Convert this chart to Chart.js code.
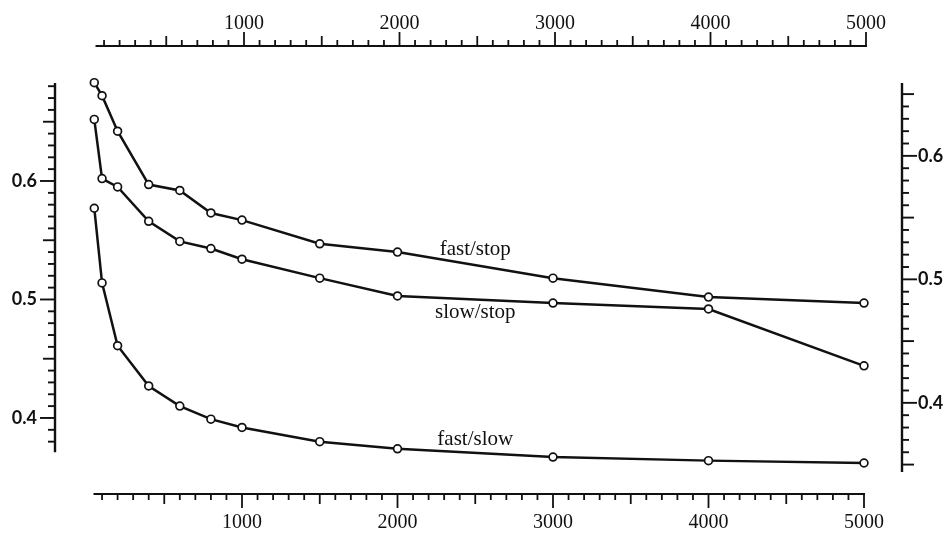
<!DOCTYPE html>
<html>
<head>
<meta charset="utf-8">
<script src="https://cdn.jsdelivr.net/npm/chart.js@4.4.1/dist/chart.umd.min.js"></script>
<style>
  html, body { margin: 0; padding: 0; background: #fff; }
  #wrap { width: 952px; height: 537px; position: relative; }
</style>
</head>
<body>
<div id="wrap"><canvas id="myChart"></canvas></div>
<script>
// values
const xValues = [50, 100, 200, 400, 600, 800, 1000, 1500, 2000, 3000, 4000, 5000];
const fastStop = [0.683, 0.672, 0.642, 0.597, 0.592, 0.573, 0.567, 0.547, 0.540, 0.518, 0.502, 0.497];
const slowStop = [0.652, 0.602, 0.595, 0.566, 0.549, 0.543, 0.534, 0.518, 0.503, 0.497, 0.492, 0.444];
const fastSlow = [0.577, 0.514, 0.461, 0.427, 0.410, 0.399, 0.392, 0.380, 0.374, 0.367, 0.364, 0.362];
const seriesNames = ['fast/stop', 'slow/stop', 'fast/slow'];
const xTickLabels = [1000, 2000, 3000, 4000, 5000];
const yTickLabels = [0.4, 0.5, 0.6];
const yRightTickLabels = [0.4, 0.5, 0.6];

const ink = '#111';

function toPoints(ys) {
  return xValues.map((x, i) => ({ x: x, y: ys[i] }));
}

function makeDataset(name, ys) {
  return {
    label: name,
    data: toPoints(ys),
    borderColor: ink,
    borderWidth: 2.5,
    pointRadius: 3.9,
    pointBorderWidth: 1.7,
    pointBackgroundColor: '#fff',
    pointBorderColor: ink,
    tension: 0,
    clip: false
  };
}

// draws the paper-style axes (ticks on the outside) and the curve names
const paperAxes = {
  id: 'paperAxes',
  afterDraw(chart, args, opts) {
    const ctx = chart.ctx;
    const x = chart.scales.x, y = chart.scales.y, y2 = chart.scales.y2;
    ctx.save();
    ctx.strokeStyle = ink;
    ctx.fillStyle = ink;
    ctx.lineCap = 'butt';

    function horizontalAxis(lineY, dir, shift, labelY) {
      ctx.lineWidth = 2;
      ctx.beginPath();
      ctx.moveTo(x.getPixelForValue(45) + shift, lineY);
      ctx.lineTo(x.getPixelForValue(5000) + shift + 1, lineY);
      ctx.stroke();
      ctx.lineWidth = 1.8;
      for (let v = 100; v <= 5000; v += 100) {
        const len = v % 1000 === 0 ? 14 : (v % 500 === 0 ? 10 : 6);
        const px = x.getPixelForValue(v) + shift;
        ctx.beginPath();
        ctx.moveTo(px, lineY);
        ctx.lineTo(px, lineY + dir * len);
        ctx.stroke();
      }
      ctx.font = '20px "Liberation Serif"';
      ctx.textAlign = 'center';
      ctx.textBaseline = 'middle';
      xTickLabels.forEach(v => ctx.fillText(String(v), x.getPixelForValue(v) + shift, labelY));
    }

    function verticalAxis(scale, lineX, dir, from, to, labels, labelX) {
      ctx.lineWidth = 2.4;
      ctx.beginPath();
      ctx.moveTo(lineX, scale.getPixelForValue(from));
      ctx.lineTo(lineX, scale.getPixelForValue(to));
      ctx.stroke();
      ctx.lineWidth = 1.9;
      const lo = Math.ceil(from * 100), hi = Math.floor(to * 100);
      for (let i = lo; i <= hi; i++) {
        const len = i % 10 === 0 ? 15 : (i % 5 === 0 ? 12 : 7);
        const py = scale.getPixelForValue(i / 100);
        ctx.beginPath();
        ctx.moveTo(lineX, py);
        ctx.lineTo(lineX + dir * len, py);
        ctx.stroke();
      }
      ctx.font = 'bold 18px Lato';
      ctx.textAlign = dir < 0 ? 'right' : 'left';
      ctx.textBaseline = 'middle';
      labels.forEach(v => ctx.fillText(v.toFixed(1), labelX, scale.getPixelForValue(v)));
    }

    horizontalAxis(opts.topY, -1, 2, opts.topLabelY);
    horizontalAxis(opts.bottomY, 1, 0, opts.bottomLabelY);
    verticalAxis(y, opts.leftX, -1, opts.leftFrom, y.max, yTickLabels, opts.leftX - 18);
    verticalAxis(y2, opts.rightX, 1, y2.min, y2.max, yRightTickLabels, opts.rightX + 16);

    // curve names, placed relative to each curve at x = labelAt
    ctx.font = '21px "Liberation Serif"';
    ctx.textAlign = 'center';
    ctx.textBaseline = 'middle';
    const px = x.getPixelForValue(opts.labelAt);
    chart.data.datasets.forEach((ds, i) => {
      const pts = chart.getDatasetMeta(i).data;
      let py = pts[pts.length - 1].y;
      for (let k = 1; k < pts.length; k++) {
        if (pts[k].x >= px) {
          const t = (px - pts[k - 1].x) / (pts[k].x - pts[k - 1].x);
          py = pts[k - 1].y + t * (pts[k].y - pts[k - 1].y);
          break;
        }
      }
      ctx.fillText(ds.label, px, py + opts.labelOffsets[i]);
    });
    ctx.restore();
  }
};

let ctx = document.getElementById('myChart');

let myChart = new Chart(ctx, {
  type: 'line',
  data: {
    datasets: [
      makeDataset(seriesNames[0], fastStop),
      makeDataset(seriesNames[1], slowStop),
      makeDataset(seriesNames[2], fastSlow)
    ]
  },
  options: {
    responsive: true,
    maintainAspectRatio: false,
    animation: false,
    layout: { padding: { left: 86.5, right: 88, top: 83, bottom: 65 } },
    scales: {
      x: { type: 'linear', min: 0, max: 5000, display: false },
      y: { type: 'linear', min: 0.3544, max: 0.6827, display: false },
      y2: { type: 'linear', min: 0.344, max: 0.659, display: false }
    },
    plugins: {
      legend: { display: false },
      tooltip: { enabled: false },
      paperAxes: {
        topY: 46, topLabelY: 24,
        bottomY: 494, bottomLabelY: 523,
        leftX: 55, leftFrom: 0.371,
        rightX: 902,
        labelAt: 2500,
        labelOffsets: [-16, 13, -13]
      }
    }
  },
  plugins: [paperAxes]
});
</script>
</body>
</html>
